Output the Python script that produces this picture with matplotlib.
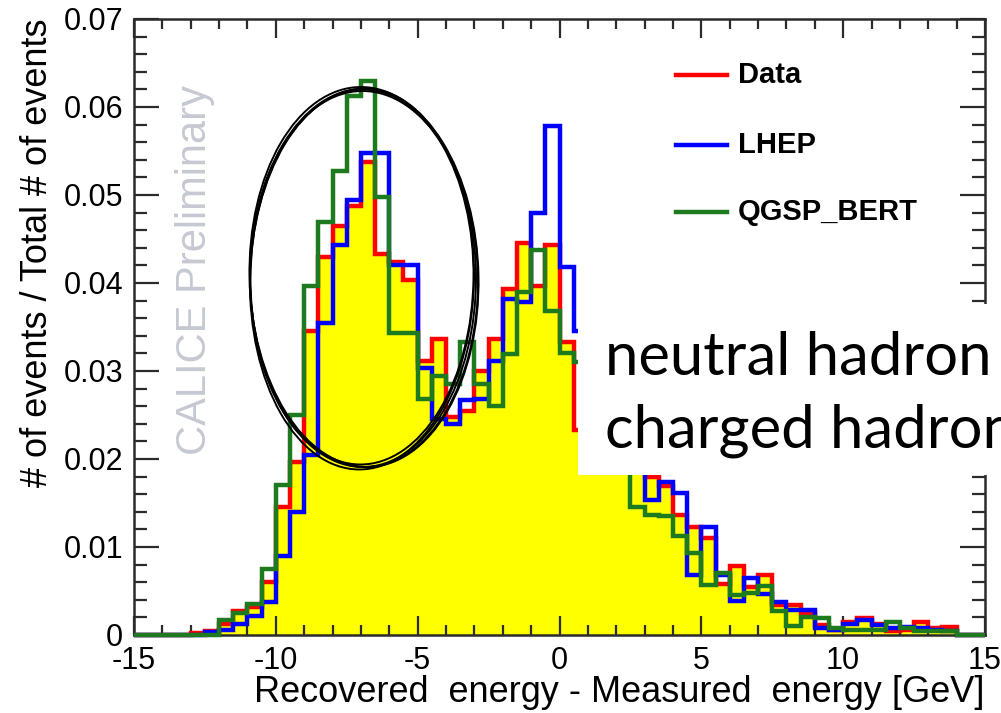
import numpy as np
import matplotlib
matplotlib.use("Agg")
import matplotlib.pyplot as plt
from matplotlib.patches import Ellipse, Rectangle
from matplotlib.lines import Line2D
from matplotlib.ticker import MultipleLocator, FixedLocator, FuncFormatter

plt.rcParams["font.family"] = ["Liberation Sans", "DejaVu Sans"]
plt.rcParams["axes.unicode_minus"] = False

# 60 bins of 0.5 GeV between -15 and 15 GeV
bin_edges = np.linspace(-15, 15, 61)

data_frac = [
    0, 0, 0, 0, 0.0002, 0.0004, 0.0012, 0.0027, 0.0032, 0.0060,
    0.0145, 0.0197, 0.0345, 0.0430, 0.0465, 0.0488, 0.0538, 0.0433, 0.0424, 0.0403,
    0.0311, 0.0336, 0.0248, 0.0255, 0.0300, 0.0336, 0.0393, 0.0445, 0.0397, 0.0443,
    0.0333, 0.0233, 0.0225, 0.0215, 0.0205, 0.0195, 0.0180, 0.0169, 0.0136, 0.0123,
    0.0110, 0.0058, 0.0078, 0.0055, 0.0068, 0.0034, 0.0034, 0.0025, 0.0011, 0.0006,
    0.0015, 0.0019, 0.0013, 0.0004, 0.0006, 0.0015, 0.0008, 0.0009, 0, 0,
]
lhep_frac = [
    0, 0, 0, 0, 0, 0.0003, 0.0006, 0.0012, 0.0022, 0.0038,
    0.0090, 0.0140, 0.0204, 0.0354, 0.0443, 0.0494, 0.0548, 0.0548, 0.0421, 0.0421,
    0.0303, 0.0245, 0.0240, 0.0267, 0.0268, 0.0311, 0.0382, 0.0378, 0.0479, 0.0578,
    0.0418, 0.0346, 0.0300, 0.0255, 0.0215, 0.0192, 0.0153, 0.0174, 0.0161, 0.0068,
    0.0123, 0.0068, 0.0039, 0.0065, 0.0047, 0.0038, 0.0028, 0.0028, 0.0008, 0.0006,
    0.0013, 0.0017, 0.0011, 0.0008, 0.0009, 0.0008, 0.0006, 0.0004, 0, 0,
]
qgsp_frac = [
    0, 0, 0, 0, 0, 0, 0.0017, 0.0025, 0.0035, 0.0075,
    0.0170, 0.0250, 0.0397, 0.0469, 0.0527, 0.0612, 0.0629, 0.0498, 0.0343, 0.0343,
    0.0268, 0.0294, 0.0285, 0.0333, 0.0285, 0.0260, 0.0319, 0.0390, 0.0437, 0.0368,
    0.0320, 0.0310, 0.0275, 0.0240, 0.0205, 0.0145, 0.0136, 0.0135, 0.0113, 0.0093,
    0.0057, 0.0070, 0.0046, 0.0048, 0.0056, 0.0027, 0.0010, 0.0020, 0.0019, 0.0008,
    0.0006, 0.0006, 0.0006, 0.0015, 0.0008, 0.0004, 0.0004, 0.0004, 0, 0,
]

series_names = ["Data", "LHEP", "QGSP_BERT"]
series_colors = ["#ff0000", "#0000ff", "#1e7a1e"]
x_ticks = [-15, -10, -5, 0, 5, 10, 15]
y_ticks = [0, 0.01, 0.02, 0.03, 0.04, 0.05, 0.06, 0.07]

W, H = 1001, 713
fig = plt.figure(figsize=(W / 100, H / 100), dpi=100)
ax = fig.add_axes([134 / W, 1 - 635 / H, (985 - 134) / W, (635 - 19) / H])

# data histogram: yellow filled area with red outline
ax.stairs(data_frac, bin_edges, fill=True, color="#ffff00", zorder=1)
lw = 3.2
for vals, col in zip([data_frac, lhep_frac, qgsp_frac], series_colors):
    ax.stairs(vals, bin_edges, color=col, lw=lw, zorder=3, clip_on=False)

ax.set_xlim(-15, 15)
ax.set_ylim(0, 0.07)
ax.xaxis.set_major_locator(FixedLocator(x_ticks))
ax.xaxis.set_minor_locator(MultipleLocator(1))
ax.yaxis.set_major_locator(FixedLocator(y_ticks))
ax.yaxis.set_minor_locator(MultipleLocator(0.002))
ax.xaxis.set_major_formatter(FuncFormatter(lambda v, p: "%d" % v))
ax.yaxis.set_major_formatter(FuncFormatter(lambda v, p: "0" if abs(v) < 1e-9 else "%.2f" % v))

frame_col = "#2b2b2b"
for sp in ax.spines.values():
    sp.set_color(frame_col)
    sp.set_linewidth(1.8)
ax.tick_params(which="both", direction="in", top=True, right=True,
               color=frame_col, width=1.6, labelsize=22)
ax.tick_params(axis="x", which="major", length=13.5, pad=8)
ax.tick_params(axis="x", which="minor", length=7)
ax.tick_params(axis="y", which="major", length=18, pad=8)
ax.tick_params(axis="y", which="minor", length=9.5)

# watermark
ax.text((195 - 134) / (985 - 134), (635 - 270) / (635 - 19), "CALICE Preliminary",
        rotation=90, ha="center", va="center", fontsize=30, color="#c6c9d2",
        transform=ax.transAxes, zorder=0.5)

# axis titles
fig.text(985 / W, 1 - 692 / H, "Recovered  energy - Measured  energy [GeV]",
         ha="right", va="center", fontsize=26)
fig.text(38 / W, 1 - 253 / H, "# of events / Total # of events",
         ha="center", va="center", rotation=90, fontsize=26)

# legend
legend_y = [75, 145, 212]
for name, col, yy in zip(series_names, series_colors, legend_y):
    fig.add_artist(Line2D([676 / W, 727 / W], [1 - yy / H, 1 - yy / H],
                          color=col, lw=lw, transform=fig.transFigure))
    fig.text(738 / W, 1 - yy / H, name, ha="left", va="center",
             fontsize=21, fontweight="bold")

# hand-drawn ellipse around the low-energy peak
cx, cy, ew, eh = 363, 278, 226, 378
strokes = [(0, 0, 0, 0, 0.0), (1, -1, 3, 2, 0.8), (-1, 1, -2, 3, -0.7),
           (1, 1, 2, -2, 0.4), (-1, -1, -3, -3, -0.4)]
for dx, dy, dw, dh, ang in strokes:
    fig.add_artist(Ellipse(((cx + dx) / W, 1 - (cy + dy) / H), (ew + dw) / W, (eh + dh) / H,
                           angle=ang, fill=False, edgecolor="black", lw=1.4,
                           transform=fig.transFigure))

# annotation box
fig.add_artist(Rectangle((578 / W, 1 - 475 / H), (W - 578) / W, (475 - 304) / H,
                         facecolor="white", edgecolor="none", transform=fig.transFigure))
fig.text(605 / W, 1 - 375 / H, "neutral hadron", ha="left", va="baseline",
         fontsize=43, family=["Lato", "DejaVu Sans"], color="black")
fig.text(605 / W, 1 - 448 / H, "charged hadron", ha="left", va="baseline",
         fontsize=43, family=["Lato", "DejaVu Sans"], color="black")

fig.savefig("out.png", dpi=100)
